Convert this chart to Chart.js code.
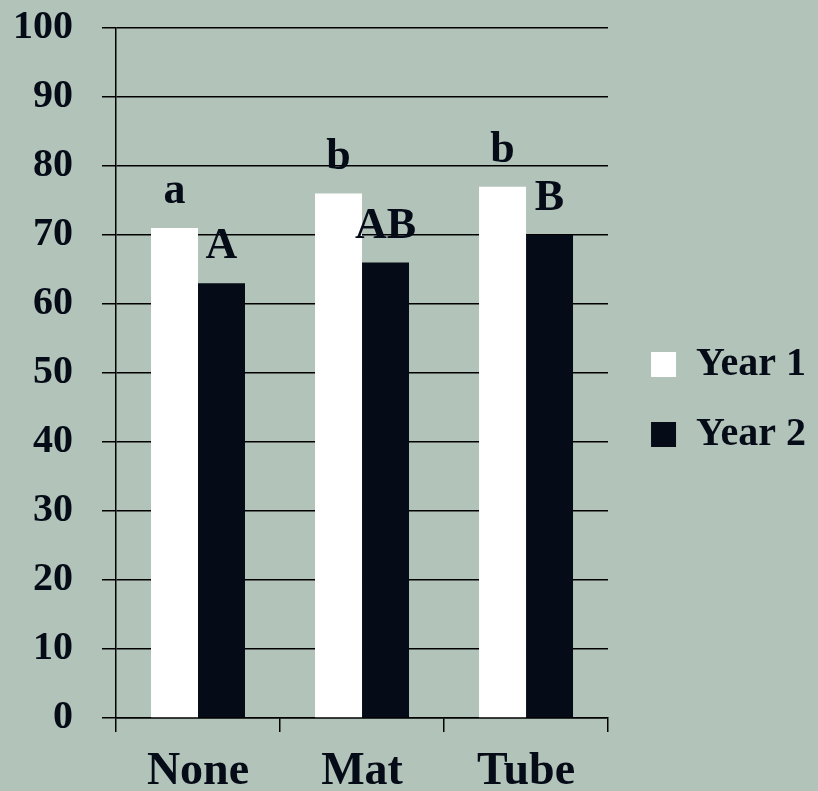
<!DOCTYPE html>
<html>
<head>
<meta charset="utf-8">
<script src="https://cdn.jsdelivr.net/npm/chart.js@4"></script>
<style>
  html, body { margin: 0; padding: 0; background: #b2c4b9; }
  #wrap { width: 818px; height: 791px; }
</style>
</head>
<body>
<div id="wrap"><canvas id="chart" width="818" height="791"></canvas></div>
<script>
const categories = ["None", "Mat", "Tube"];
const year1 = [71, 76, 77];
const year2 = [63, 66, 70];
const letters1 = ["a", "b", "b"];
const letters2 = ["A", "AB", "B"];
const yTicks = [0, 10, 20, 30, 40, 50, 60, 70, 80, 90, 100];

const INK = "#060b18";
const FONT = "'Liberation Serif', 'DejaVu Serif', serif";

// letters above each bar
const letterPlugin = {
    id: "letters",
    afterDatasetsDraw(chart) {
        const ctx = chart.ctx;
        const sets = [letters1, letters2];
        ctx.save();
        ctx.fillStyle = INK;
        ctx.font = "bold 44px " + FONT;
        ctx.textAlign = "center";
        ctx.textBaseline = "alphabetic";
        chart.data.datasets.forEach((ds, i) => {
            const meta = chart.getDatasetMeta(i);
            meta.data.forEach((bar, j) => {
                ctx.fillText(sets[i][j], bar.x, bar.y - 25);
            });
        });
        ctx.restore();
    }
};

// nudge the legend a little to the right / down
const legendNudge = {
    id: "legendNudge",
    afterLayout(chart) {
        const lg = chart.legend;
        lg.left += 13;
        lg.right += 13;
        lg.top += 4;
        lg.bottom += 4;
    }
};

new Chart(document.getElementById("chart"), {
    type: "bar",
    data: {
        labels: categories,
        datasets: [
            { label: "Year 1", data: year1, backgroundColor: "#ffffff", borderWidth: 0 },
            { label: "Year 2", data: year2, backgroundColor: INK, borderWidth: 0 }
        ]
    },
    options: {
        responsive: false,
        animation: false,
        layout: { padding: { top: 0, left: 0, right: 15, bottom: 0 } },
        datasets: { bar: { categoryPercentage: 0.573, barPercentage: 1 } },
        plugins: {
            tooltip: { enabled: false },
            legend: {
                position: "right",
                labels: {
                    color: INK,
                    font: { family: FONT, size: 40, weight: "bold" },
                    boxWidth: 25,
                    boxHeight: 25,
                    padding: 30,
                    generateLabels(chart) {
                        return chart.data.datasets.map((ds, i) => ({
                            text: ds.label,
                            fillStyle: ds.backgroundColor,
                            strokeStyle: ds.backgroundColor,
                            lineWidth: 0,
                            datasetIndex: i,
                            fontColor: INK
                        }));
                    }
                }
            }
        },
        scales: {
            x: {
                afterFit(s) {
                    s.height = 73;
                },
                grid: {
                    offset: true,
                    drawOnChartArea: false,
                    drawTicks: true,
                    tickLength: 14,
                    color: "#000",
                    lineWidth: 1.5
                },
                border: { color: "#000", width: 1.5 },
                ticks: {
                    color: INK,
                    font: { family: FONT, size: 46, weight: "bold" },
                    padding: 13
                }
            },
            y: {
                min: 0,
                max: 100,
                afterBuildTicks(axis) {
                    axis.ticks = yTicks.map(v => ({ value: v }));
                },
                afterFit(s) {
                    s.width = 116;
                    s.paddingTop = 28;
                },
                grid: {
                    color: "#000",
                    lineWidth: 1.5,
                    tickLength: 14
                },
                border: { color: "#000", width: 1.5 },
                ticks: {
                    color: INK,
                    font: { family: FONT, size: 40, weight: "bold" },
                    padding: 29
                }
            }
        }
    },
    plugins: [letterPlugin, legendNudge]
});
</script>
</body>
</html>
